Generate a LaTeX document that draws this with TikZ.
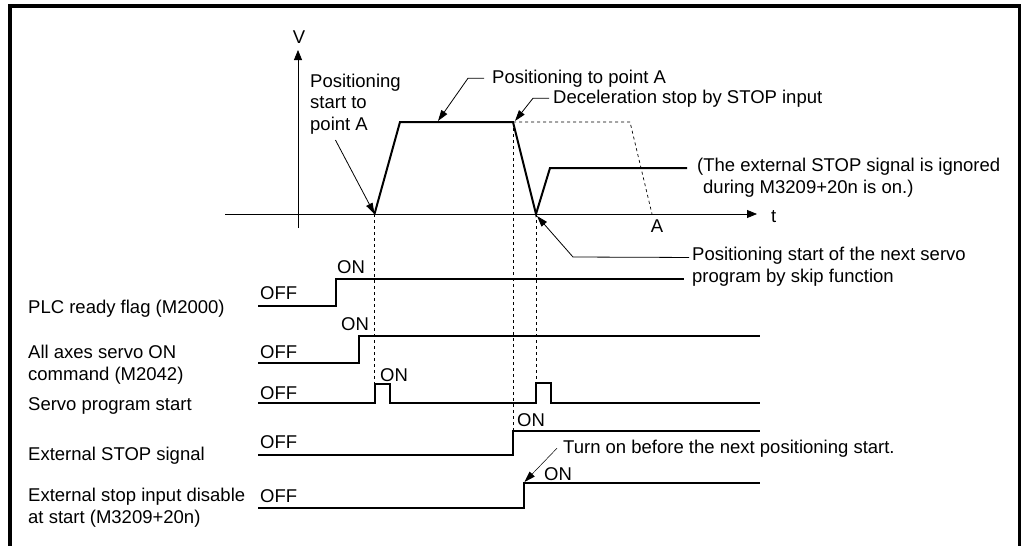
\documentclass[tikz,border=0pt]{standalone}
\usepackage{fontspec}
\setmainfont{Liberation Sans}
\usetikzlibrary{arrows.meta}
\tikzset{
  frame/.style={line width=3.5pt,line join=miter},
  axis/.style={line width=0.8pt,-{Triangle[length=10pt,width=8pt]}},
  prof/.style={line width=2pt,line join=miter},
  guide/.style={line width=0.7pt,dash pattern=on 3pt off 3pt},
  sig/.style={line width=2pt},
  lead/.style={line width=0.8pt,-{Triangle[length=11pt,width=7pt]}},
  txt/.style={anchor=base west,inner sep=0pt,align=left,font=\fontsize{18.5}{21.5}\selectfont},
}
\begin{document}
\begin{tikzpicture}[x=1pt,y=-1pt]
  \useasboundingbox (0,0) rectangle (1021,546);
  % frame, open at the bottom
  \draw[frame] (10,546) -- (10,6) -- (1019.5,6) -- (1019.5,546);

  % axes
  \coordinate (vO)   at (298,228);
  \coordinate (vEnd) at (298,50);
  \coordinate (tO)   at (225,214);
  \coordinate (tEnd) at (757,214);
  \draw[axis] (vO) -- (vEnd);
  \draw[axis] (tO) -- (tEnd);
  \node[txt,anchor=base] (vlab) at (299,43)  {V};
  \node[txt] (tlab) at (771,222) {t};

  % speed profile
  \coordinate (p0) at (374.5,214);
  \coordinate (p1) at (400,122);
  \coordinate (p2) at (513,122);
  \coordinate (p3) at (536,214);
  \coordinate (p4) at (550,168);
  \coordinate (p5) at (687,168);
  \draw[prof] (p0) -- (p1) -- (p2) -- (p3) -- (p4) -- (p5);
  \coordinate (q1) at (630,122);
  \coordinate (q2) at (652,214);
  \draw[guide] (p2) -- (q1) -- (q2);
  \node[txt,anchor=base] (alab) at (657,232) {A};

  % guide lines down to the timing chart
  \draw[guide] (p0) -- (374.5,384);
  \draw[guide] (p2) -- (513,431);
  \draw[guide] (p3) -- (536,383);

  % notes on the profile (base = last line)
  \node[txt] (startA) at (310,130) {Positioning\\start to\\point A};
  \node[txt] (toA)    at (492,83)  {Positioning to point A};
  \node[txt] (decel)  at (553,103) {Deceleration stop by STOP input};
  \node[txt] (ignore) at (697,193) {(The external STOP signal is ignored\\\hspace{6pt}during M3209+20n is on.)};
  \node[txt] (skip)   at (692,282) {Positioning start of the next servo\\program by skip function};

  \draw[lead] ([xshift=-20pt,yshift=-6pt]startA.south) -- (p0);
  \draw[lead] ([xshift=-8pt]toA.west) -- ++(-16,0) -- (438,121);
  \draw[lead] ([xshift=-4pt]decel.west) -- ++(-16,0) -- (515,121);
  \draw[lead] ([xshift=-3pt,yshift=9pt]skip.west) -- (573,257) -- (537,216);

  % timing chart
  \node[txt] (plc)   at (28,313) {PLC ready flag (M2000)};
  \node[txt] (son)   at (28,380) {All axes servo ON\\command (M2042)};
  \node[txt] (start) at (28,410) {Servo program start};
  \node[txt] (estop) at (28,460) {External STOP signal};
  \node[txt] (dis)   at (28,523) {External stop input disable\\at start (M3209+20n)};

  \node[txt] (off1) at (260,299) {OFF};
  \node[txt] (off2) at (260,358) {OFF};
  \node[txt] (off3) at (260,399) {OFF};
  \node[txt] (off4) at (260,448) {OFF};
  \node[txt] (off5) at (260,502) {OFF};
  \node[txt] (on1) at (337,273) {ON};
  \node[txt] (on2) at (341,330) {ON};
  \node[txt] (on3) at (380,381) {ON};
  \node[txt] (on4) at (517,426) {ON};
  \node[txt] (on5) at (544,480) {ON};

  \draw[sig] (258,306) -- (336,306) -- (336,279) -- (684,279);
  \draw[sig] (258,363) -- (359,363) -- (359,336) -- (760,336);
  \draw[sig] (258,402.7) -- (374.5,402.7) -- (374.5,384) -- (390,384) -- (390,402.7)
    -- (536,402.7) -- (536,383) -- (551,383) -- (551,402.7) -- (760,402.7);
  \draw[sig] (258,455) -- (513,455) -- (513,431) -- (760,431);
  \draw[sig] (258,508) -- (523.5,508) -- (523.5,483) -- (760,483);

  \node[txt] (turn) at (563,453) {Turn on before the next positioning start.};
  \draw[lead,line width=0.5pt] ([xshift=-6pt]turn.west) -- (524.5,482);
\end{tikzpicture}
\end{document}
